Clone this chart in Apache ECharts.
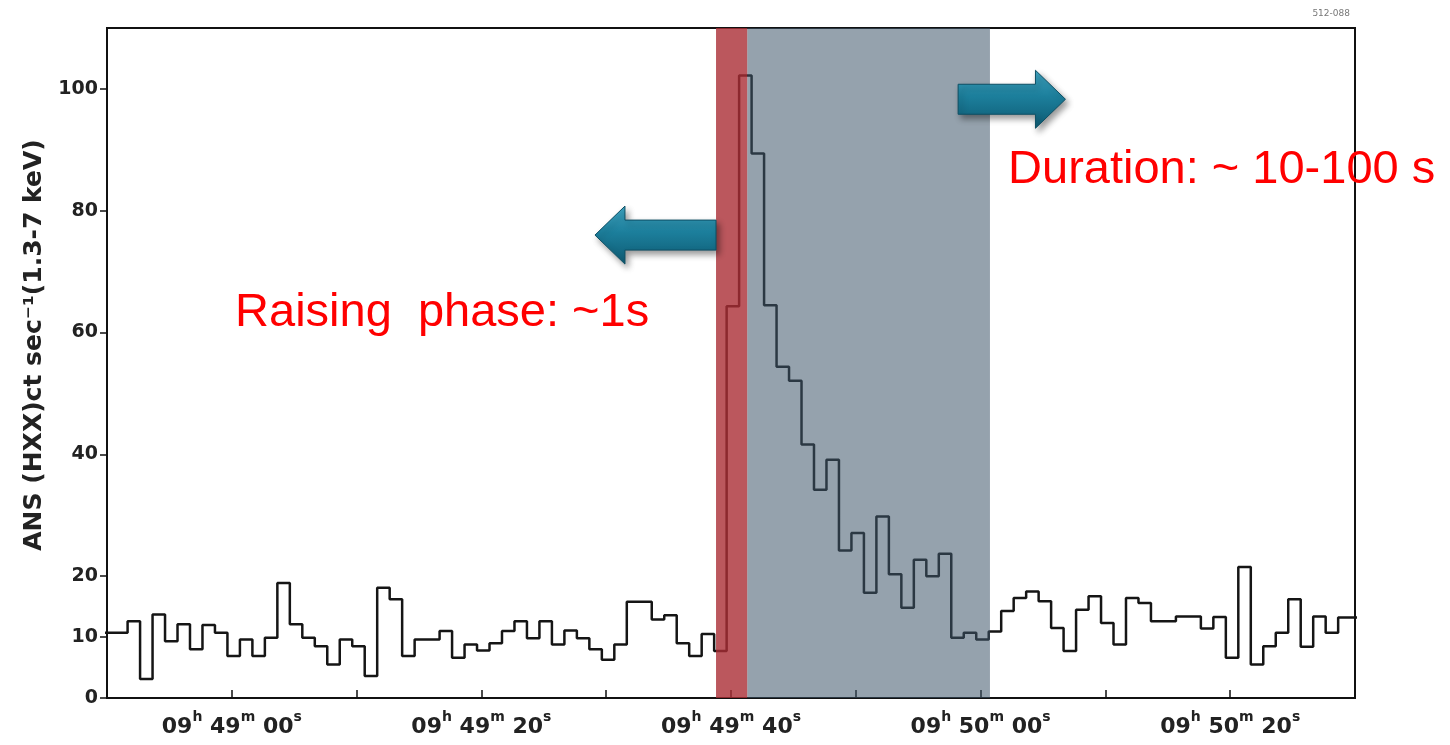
<!DOCTYPE html>
<html>
<head>
<meta charset="utf-8">
<script src="https://cdn.jsdelivr.net/npm/echarts@6/dist/echarts.min.js"></script>
<style>
html, body { margin: 0; padding: 0; background: #fff; }
#chart { width: 1450px; height: 745px; }
</style>
</head>
<body>
<div id="chart"></div>
<script>
// time axis: seconds after 09h48m50s, 1 s bins
const binStart = -0.35;
const counts = [
  10.7, 10.7, 12.6, 3.1, 13.7, 9.3, 12.1, 8.0, 12.0, 10.7,
  6.9, 9.6, 6.9, 9.9, 18.9, 12.1, 9.9, 8.5, 5.5, 9.6,
  8.5, 3.6, 18.1, 16.2, 6.9, 9.6, 9.6, 11.0, 6.6, 8.8,
  7.8, 9.0, 11.0, 12.6, 9.8, 12.6, 8.8, 11.1, 9.8, 8.0,
  6.3, 8.8, 15.8, 15.8, 12.9, 13.6, 9.0, 6.9, 10.5, 7.7,
  64.3, 102.2, 89.4, 64.5, 54.4, 52.1, 41.6, 34.2, 39.1, 24.2,
  27.1, 17.3, 29.8, 20.3, 14.8, 22.7, 20.0, 23.7, 9.9, 10.7,
  9.6, 10.9, 14.3, 16.4, 17.5, 15.9, 11.5, 7.7, 14.5, 16.7,
  12.3, 8.8, 16.4, 15.6, 12.6, 12.6, 13.4, 13.4, 11.4, 13.3,
  6.6, 21.5, 5.5, 8.5, 10.7, 16.2, 8.4, 13.4, 10.7, 13.2, 13.2
];
const xTickValues = [10, 30, 50, 70, 90];
const xTickLabels = [['09', '49', '00'], ['09', '49', '20'], ['09', '49', '40'], ['09', '50', '00'], ['09', '50', '20']];
const yTickValues = [0, 10, 20, 40, 60, 80, 100];
const risePhase = [48.8, 51.3];
const decayPhase = [51.3, 70.75];

const FONT = '"DejaVu Sans"';
const chart = echarts.init(document.getElementById('chart'));

const stepData = counts.map((v, i) => [binStart + i, v]);
stepData.push([binStart + counts.length, counts[counts.length - 1]]);

chart.setOption({
  backgroundColor: '#fff',
  animation: false,
  grid: { left: 107, right: 95, top: 28, bottom: 47, show: true, borderColor: '#111', borderWidth: 2 },
  xAxis: {
    type: 'value', min: 0, max: 100, interval: 10,
    splitLine: { show: false },
    axisLine: { lineStyle: { color: '#111', width: 2 } },
    axisTick: { inside: true, length: 8, lineStyle: { color: '#111', width: 1.5 } },
    axisLabel: {
      customValues: xTickValues,
      margin: 12,
      formatter: function (val) {
        const i = xTickValues.indexOf(val);
        if (i < 0) return '';
        const p = xTickLabels[i];
        return '{d|' + p[0] + '}{u|h}{d| ' + p[1] + '}{u|m}{d| ' + p[2] + '}{u|s}';
      },
      rich: {
        d: { fontFamily: FONT, fontWeight: 'bold', fontSize: 22, color: '#222', lineHeight: 28, verticalAlign: 'bottom' },
        u: { fontFamily: FONT, fontWeight: 'bold', fontSize: 14, color: '#222', lineHeight: 16, verticalAlign: 'top' }
      }
    }
  },
  yAxis: {
    type: 'value', min: 0, max: 110, interval: 10,
    splitLine: { show: false },
    axisLine: { show: true, lineStyle: { color: '#111', width: 2 } },
    axisTick: { show: true, customValues: yTickValues, length: 7, lineStyle: { color: '#111', width: 1.5 } },
    axisLabel: {
      customValues: yTickValues, margin: 9,
      fontFamily: FONT, fontWeight: 'bold', fontSize: 19, color: '#222'
    },
    name: 'ANS (HXX)ct sec\u207B\u00B9(1.3-7 keV)',
    nameLocation: 'middle', nameRotate: 90, nameGap: 47,
    nameTextStyle: { fontFamily: FONT, fontWeight: 'bold', fontSize: 25, color: '#222', padding: [0, 0, 0, 36] }
  },
  series: [
    {
      type: 'line', step: 'end', data: stepData, symbol: 'none', z: 1,
      lineStyle: { color: '#151515', width: 2.5 }
    },
    {
      type: 'line', data: [], z: 5,
      markArea: {
        silent: true, z: 10,
        data: [
          [{ xAxis: decayPhase[0], itemStyle: { color: 'rgba(62,86,106,0.55)' } }, { xAxis: decayPhase[1] }],
          [{ xAxis: risePhase[0], itemStyle: { color: 'rgba(170,45,52,0.8)' } }, { xAxis: risePhase[1] }]
        ]
      }
    }
  ]
});

function arrowShape(tipT, tailT, v) {
  const tip = chart.convertToPixel({ gridIndex: 0 }, [tipT, v]);
  const tail = chart.convertToPixel({ gridIndex: 0 }, [tailT, v]);
  const dir = tip[0] > tail[0] ? 1 : -1;
  const y = tip[1], hx = tip[0] - dir * 30;
  return {
    type: 'polygon', z: 20,
    shape: { points: [[tail[0], y - 15], [hx, y - 15], [hx, y - 29], [tip[0], y], [hx, y + 29], [hx, y + 15], [tail[0], y + 15]] },
    style: {
      fill: new echarts.graphic.LinearGradient(0, 0, 0, 1, [
        { offset: 0, color: '#3fa3c0' }, { offset: 0.45, color: '#1c7f9c' }, { offset: 1, color: '#0e5a72' }
      ]),
      stroke: '#0d4f64', lineWidth: 1,
      shadowBlur: 6, shadowColor: 'rgba(0,0,0,0.4)', shadowOffsetX: 3, shadowOffsetY: 4
    }
  };
}

function label(text, t, v) {
  const p = chart.convertToPixel({ gridIndex: 0 }, [t, v]);
  return {
    type: 'text', z: 20,
    style: { text: text, x: p[0], y: p[1], fill: '#ff0000', font: '47px "Liberation Sans"', textAlign: 'left', textVerticalAlign: 'middle' }
  };
}

chart.setOption({
  graphic: [
    arrowShape(39.1, risePhase[0], 76.0),
    arrowShape(76.8, 68.2, 98.3),
    label('Duration: ~ 10-100 s', 72.2, 86.7),
    label('Raising  phase: ~1s', 10.26, 63.2),
    { type: 'text', z: 20, style: { text: '512-088', x: 1350, y: 14, fill: '#777', font: '9px "DejaVu Sans"', textAlign: 'right', textVerticalAlign: 'middle' } }
  ]
});
</script>
</body>
</html>
